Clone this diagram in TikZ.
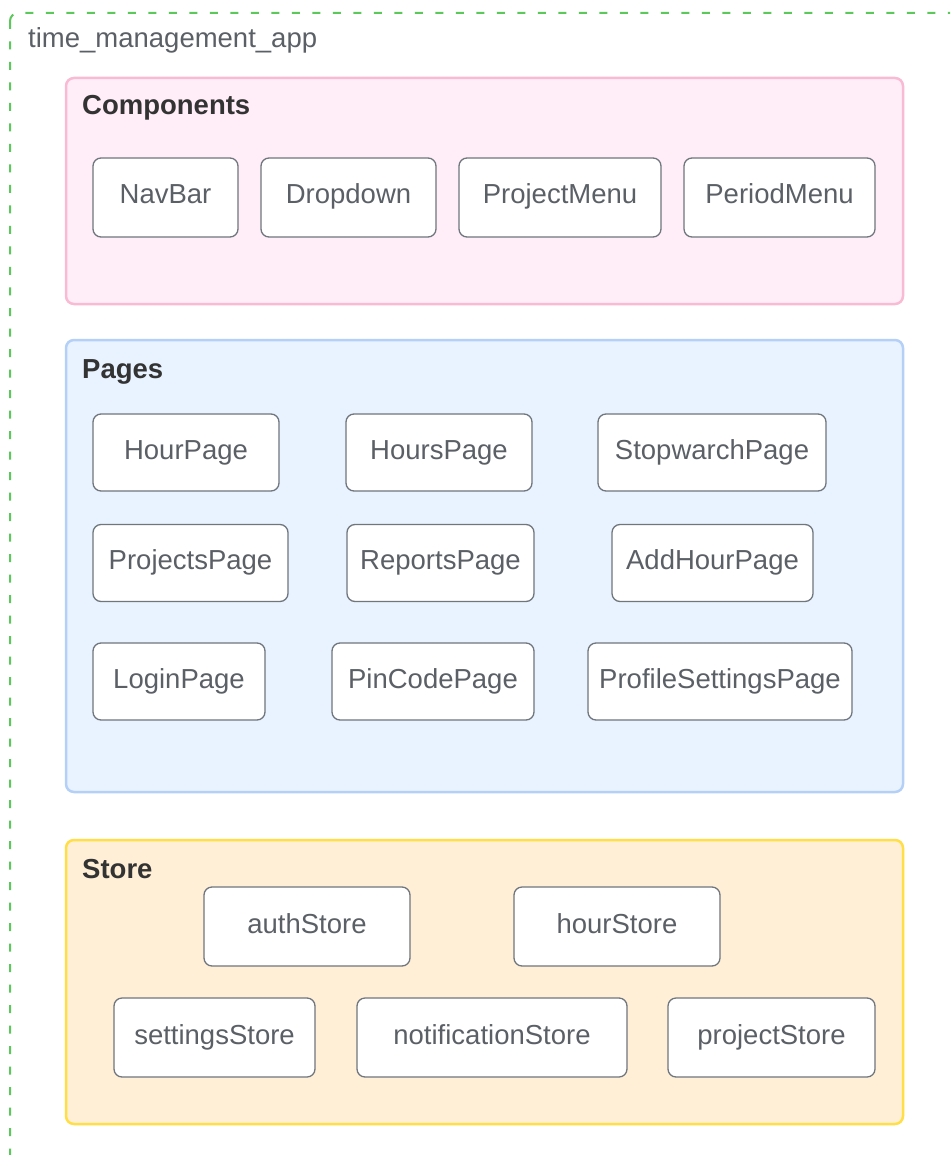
\documentclass[tikz,border=0pt]{standalone}
\usepackage{fontspec}
\setmainfont{Liberation Sans}
\usetikzlibrary{positioning}

\definecolor{appgreen}{HTML}{5CC85C}
\definecolor{compfill}{HTML}{FFEEF8}
\definecolor{compline}{HTML}{F8BBD3}
\definecolor{pagefill}{HTML}{E9F3FF}
\definecolor{pageline}{HTML}{B5D0F7}
\definecolor{storefill}{HTML}{FFEFD7}
\definecolor{storeline}{HTML}{FFDF45}
\definecolor{itemline}{HTML}{70767D}
\definecolor{itemtext}{HTML}{5B6067}
\definecolor{headtext}{HTML}{333333}

\tikzset{
  item/.style={draw=itemline, line width=1.3pt, fill=white, rounded corners=8pt,
    text=itemtext, inner sep=2pt, text height=19pt, text depth=6pt,
    font=\fontsize{27.5pt}{33pt}\selectfont},
  itemc/.style={item, minimum height=79pt},
  itemp/.style={item, minimum height=77pt},
  group/.style={line width=2.5pt, rounded corners=8pt},
  heading/.style={anchor=base west, inner sep=0pt, text=headtext,
    font=\fontsize{27.5pt}{33pt}\selectfont\bfseries},
}

\begin{document}
\begin{tikzpicture}[x=1pt, y=-1pt]
\useasboundingbox (0,0) rectangle (950,1155);
\clip (0,0) rectangle (950,1155);
\fill[white] (0,0) rectangle (950,1155);

% outer frame
\draw[appgreen, line width=2pt, dash pattern=on 8pt off 12.5pt, rounded corners=8pt]
  (10,13) rectangle (965,1170);
\node[heading, font=\fontsize{27.5pt}{33pt}\selectfont, text=itemtext] (app) at (28,48) {time\_management\_app};

% Components
\draw[group, draw=compline, fill=compfill] (66,78) rectangle (903,304);
\node[heading] (components) at (82,115) {Components};
\node[itemc, minimum width=145pt] (navbar) at (165.5,197.5) {NavBar};
\node[itemc, minimum width=175pt] (dropdown) at (348.5,197.5) {Dropdown};
\node[itemc, minimum width=202pt] (projectmenu) at (560,197.5) {ProjectMenu};
\node[itemc, minimum width=191pt] (periodmenu) at (779.5,197.5) {PeriodMenu};

% Pages
\draw[group, draw=pageline, fill=pagefill] (66,340) rectangle (903,792);
\node[heading] (pages) at (82,378) {Pages};
\node[itemp, minimum width=186pt] (hourpage) at (186,452.5) {HourPage};
\node[itemp, minimum width=186pt] (hourspage) at (439,452.5) {HoursPage};
\node[itemp, minimum width=228pt] (stopwatchpage) at (712,452.5) {StopwarchPage};
\node[itemp, minimum width=195pt] (projectspage) at (190.5,563) {ProjectsPage};
\node[itemp, minimum width=187pt] (reportspage) at (440.5,563) {ReportsPage};
\node[itemp, minimum width=201pt] (addhourpage) at (712.5,563) {AddHourPage};
\node[itemp, minimum width=172pt] (loginpage) at (179,681.5) {LoginPage};
\node[itemp, minimum width=202pt] (pincodepage) at (433,681.5) {PinCodePage};
\node[itemp, minimum width=264pt] (profilepage) at (720,681.5) {ProfileSettingsPage};

% Store
\draw[group, draw=storeline, fill=storefill] (66,840) rectangle (903,1124);
\node[heading] (store) at (82,878) {Store};
\node[itemc, minimum width=206pt] (authstore) at (307,926.5) {authStore};
\node[itemc, minimum width=206pt] (hourstore) at (617,926.5) {hourStore};
\node[itemc, minimum width=201pt] (settingsstore) at (214.5,1037.5) {settingsStore};
\node[itemc, minimum width=270pt] (notificationstore) at (492,1037.5) {notificationStore};
\node[itemc, minimum width=207pt] (projectstore) at (771.5,1037.5) {projectStore};
\end{tikzpicture}
\end{document}
